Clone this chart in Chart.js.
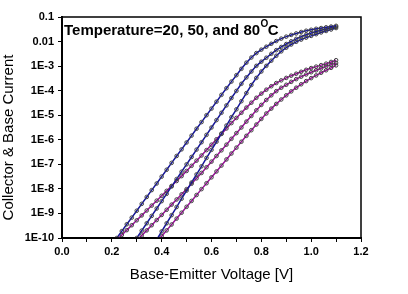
<!DOCTYPE html>
<html>
<head>
<meta charset="utf-8">
<script src="https://cdn.jsdelivr.net/npm/chart.js@4.4.1/dist/chart.umd.min.js"></script>
<style>
  html, body { margin: 0; padding: 0; background: #fff; }
  canvas { display: block; }
</style>
</head>
<body>
<canvas id="chart" width="408" height="294"></canvas>
<script>
const FONT = '"Liberation Sans", Arial, sans-serif'

// base-emitter voltage [V], one sample every 20 mV
const VOLTAGE = [
  0.22, 0.24, 0.26, 0.28, 0.30, 0.32, 0.34, 0.36, 0.38, 0.40,
  0.42, 0.44, 0.46, 0.48, 0.50, 0.52, 0.54, 0.56, 0.58, 0.60,
  0.62, 0.64, 0.66, 0.68, 0.70, 0.72, 0.74, 0.76, 0.78, 0.80,
  0.82, 0.84, 0.86, 0.88, 0.90, 0.92, 0.94, 0.96, 0.98, 1.00,
  1.02, 1.04, 1.06, 1.08, 1.10,
]

// log10 of the currents (null = below the axis)
const LOG_IC_80 = [
  -10.00, -9.72, -9.44, -9.17, -8.89, -8.61, -8.33, -8.05, -7.78, -7.50,
  -7.22, -6.94, -6.66, -6.39, -6.11, -5.83, -5.55, -5.28, -5.00, -4.73,
  -4.45, -4.17, -3.90, -3.63, -3.37, -3.11, -2.86, -2.65, -2.47, -2.33,
  -2.21, -2.09, -1.98, -1.88, -1.80, -1.73, -1.67, -1.61, -1.56, -1.52,
  -1.48, -1.45, -1.42, -1.39, -1.36,
]
const LOG_IC_50 = [
  null, null, null, null, -10.00, -9.70, -9.40, -9.10, -8.80, -8.50,
  -8.20, -7.90, -7.60, -7.30, -7.00, -6.70, -6.40, -6.10, -5.80, -5.50,
  -5.20, -4.90, -4.60, -4.30, -4.01, -3.72, -3.46, -3.22, -2.99, -2.82,
  -2.66, -2.50, -2.35, -2.22, -2.10, -1.99, -1.89, -1.80, -1.72, -1.65,
  -1.59, -1.54, -1.49, -1.44, -1.40,
]
const LOG_IC_20 = [
  null, null, null, null, null, null, null, null, -10.07, -9.73,
  -9.40, -9.07, -8.74, -8.40, -8.07, -7.74, -7.41, -7.08, -6.74, -6.41,
  -6.08, -5.75, -5.42, -5.08, -4.76, -4.43, -4.10, -3.77, -3.48, -3.22,
  -2.99, -2.78, -2.58, -2.40, -2.25, -2.12, -2.01, -1.92, -1.84, -1.77,
  -1.70, -1.63, -1.57, -1.51, -1.45,
]
const LOG_IB_80 = [
  -10.08, -9.88, -9.68, -9.48, -9.28, -9.08, -8.88, -8.68, -8.48, -8.28,
  -8.08, -7.88, -7.68, -7.48, -7.27, -7.06, -6.85, -6.64, -6.42, -6.20,
  -5.98, -5.76, -5.54, -5.32, -5.11, -4.90, -4.69, -4.49, -4.29, -4.12,
  -3.96, -3.82, -3.69, -3.58, -3.48, -3.39, -3.31, -3.23, -3.15, -3.08,
  -3.02, -2.96, -2.90, -2.83, -2.76,
]
const LOG_IB_50 = [
  null, null, null, null, -10.11, -9.90, -9.69, -9.48, -9.27, -9.06,
  -8.85, -8.64, -8.43, -8.22, -8.01, -7.79, -7.57, -7.35, -7.12, -6.89,
  -6.66, -6.43, -6.20, -5.96, -5.73, -5.50, -5.26, -5.03, -4.80, -4.58,
  -4.38, -4.19, -4.02, -3.88, -3.76, -3.64, -3.53, -3.43, -3.34, -3.25,
  -3.17, -3.09, -3.01, -2.94, -2.87,
]
const LOG_IB_20 = [
  null, null, null, null, null, null, null, null, -10.17, -9.93,
  -9.69, -9.45, -9.21, -8.97, -8.73, -8.49, -8.25, -8.01, -7.77, -7.53,
  -7.29, -7.05, -6.80, -6.56, -6.32, -6.08, -5.84, -5.61, -5.38, -5.15,
  -4.93, -4.73, -4.54, -4.36, -4.19, -4.03, -3.88, -3.74, -3.61, -3.49,
  -3.38, -3.27, -3.17, -3.07, -2.97,
]

const Y_TICKS = [1e-10, 1e-9, 1e-8, 1e-7, 1e-6, 1e-5, 1e-4, 1e-3, 1e-2, 1e-1]
const Y_TICK_LABELS = ['1E-10', '1E-9', '1E-8', '1E-7', '1E-6', '1E-5', '1E-4', '1E-3', '0.01', '0.1']
const X_TICK_LABELS = ['0.0', '0.2', '0.4', '0.6', '0.8', '1.0', '1.2']

const ANNOTATION = 'Temperature=20, 50, and 80'
const X_TITLE = 'Base-Emitter Voltage [V]'
const Y_TITLE = 'Collector & Base Current'

const BLUE = '#15159a'
const MAGENTA = '#9a109a'

const toPoints = (logs) =>
  VOLTAGE.map((v, i) => (logs[i] === null ? null : { x: v, y: 10 ** logs[i] }))
    .filter(p => p !== null)

const curve = (logs, color) => ({
  data: toPoints(logs),
  showLine: true,
  borderColor: color,
  borderWidth: 1.5,
  pointRadius: 1.8,
  pointBorderWidth: 1,
  pointBorderColor: '#404040',
  pointBackgroundColor: 'rgba(255,255,255,0)',
  tension: 0,
})

const decorations = {
  id: 'decorations',
  afterDatasetsDraw(chart) {
    const { ctx, chartArea: a } = chart
    ctx.save()
    ctx.strokeStyle = '#000'
    ctx.lineWidth = 1.5
    ctx.strokeRect(a.left, a.top, a.right - a.left, a.bottom - a.top)

    ctx.fillStyle = '#000'
    ctx.textBaseline = 'alphabetic'
    ctx.textAlign = 'left'
    ctx.font = `bold 15px ${FONT}`
    let x = 64
    const y = 35
    ctx.fillText(ANNOTATION, x, y)
    x += ctx.measureText(ANNOTATION).width + 0.5
    ctx.font = `bold 10px ${FONT}`
    ctx.fillText('O', x, y - 8)
    x += ctx.measureText('O').width - 0.5
    ctx.font = `bold 15px ${FONT}`
    ctx.fillText('C', x, y)

    ctx.translate(9, 137.5)
    ctx.rotate(-Math.PI / 2)
    ctx.textAlign = 'center'
    ctx.textBaseline = 'middle'
    ctx.font = `15px ${FONT}`
    ctx.fillText(Y_TITLE, 0, 0)
    ctx.restore()
  },
}

new Chart(document.getElementById('chart'), {
  type: 'scatter',
  data: {
    datasets: [
      curve(LOG_IC_80, BLUE),
      curve(LOG_IC_50, BLUE),
      curve(LOG_IC_20, BLUE),
      curve(LOG_IB_80, MAGENTA),
      curve(LOG_IB_50, MAGENTA),
      curve(LOG_IB_20, MAGENTA),
    ],
  },
  options: {
    responsive: false,
    animation: false,
    devicePixelRatio: 1,
    layout: { padding: { top: 17, right: 47, left: 0, bottom: 0 } },
    plugins: { legend: { display: false }, tooltip: { enabled: false } },
    scales: {
      x: {
        type: 'linear',
        min: 0,
        max: 1.2,
        afterFit: (s) => { s.height = 56 },
        border: { color: '#000', width: 2 },
        grid: { drawOnChartArea: false, tickLength: 4, color: '#000', lineWidth: 1 },
        ticks: {
          stepSize: 0.1,
          autoSkip: false,
          maxRotation: 0,
          padding: 3,
          color: '#000',
          font: { family: FONT, size: 11, weight: 'bold' },
          callback: (v) => {
            const k = Math.round(v * 10)
            return k % 2 === 0 ? X_TICK_LABELS[k / 2] : ''
          },
        },
        title: {
          display: true,
          text: X_TITLE,
          color: '#000',
          font: { family: FONT, size: 15 },
          padding: { top: 0, bottom: 10 },
        },
      },
      y: {
        type: 'logarithmic',
        min: 1e-10,
        max: 0.1,
        afterFit: (s) => { s.width = 62 },
        afterBuildTicks: (s) => { s.ticks = Y_TICKS.map(v => ({ value: v })) },
        border: { color: '#000', width: 2 },
        grid: { drawOnChartArea: false, tickLength: 4, color: '#000', lineWidth: 1 },
        ticks: {
          autoSkip: false,
          padding: 4,
          color: '#000',
          font: { family: FONT, size: 11, weight: 'bold' },
          callback: (v, i) => Y_TICK_LABELS[i],
        },
      },
    },
  },
  plugins: [decorations],
})
</script>
</body>
</html>
